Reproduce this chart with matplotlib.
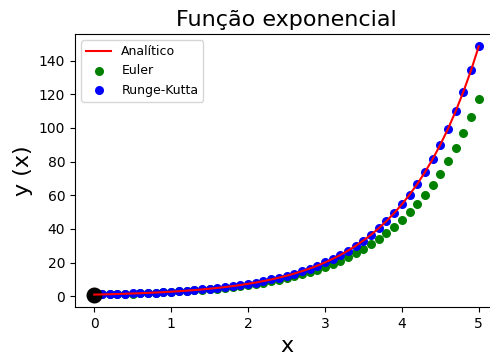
import matplotlib
matplotlib.use("Agg")
import matplotlib.pyplot as plt

x = [0.0, 0.1, 0.2, 0.3, 0.4, 0.5, 0.6, 0.7, 0.8, 0.9,
     1.0, 1.1, 1.2, 1.3, 1.4, 1.5, 1.6, 1.7, 1.8, 1.9,
     2.0, 2.1, 2.2, 2.3, 2.4, 2.5, 2.6, 2.7, 2.8, 2.9,
     3.0, 3.1, 3.2, 3.3, 3.4, 3.5, 3.6, 3.7, 3.8, 3.9,
     4.0, 4.1, 4.2, 4.3, 4.4, 4.5, 4.6, 4.7, 4.8, 4.9, 5.0]

analitico = [1.000, 1.105, 1.221, 1.350, 1.492, 1.649, 1.822, 2.014, 2.226, 2.460,
             2.718, 3.004, 3.320, 3.669, 4.055, 4.482, 4.953, 5.474, 6.050, 6.686,
             7.389, 8.166, 9.025, 9.974, 11.023, 12.182, 13.464, 14.880, 16.445, 18.174,
             20.086, 22.198, 24.533, 27.113, 29.964, 33.115, 36.598, 40.447, 44.701, 49.402,
             54.598, 60.340, 66.686, 73.700, 81.451, 90.017, 99.484, 109.947, 121.510, 134.290,
             148.413]

euler = [1.000, 1.100, 1.210, 1.331, 1.464, 1.611, 1.772, 1.949, 2.144, 2.358,
         2.594, 2.853, 3.138, 3.452, 3.797, 4.177, 4.595, 5.054, 5.560, 6.116,
         6.728, 7.400, 8.140, 8.954, 9.850, 10.835, 11.918, 13.110, 14.421, 15.863,
         17.449, 19.194, 21.114, 23.225, 25.548, 28.102, 30.913, 34.004, 37.404, 41.145,
         45.259, 49.785, 54.764, 60.240, 66.264, 72.890, 80.180, 88.197, 97.017, 106.719,
         117.391]

runge_kutta = [1.000, 1.105, 1.221, 1.350, 1.492, 1.649, 1.822, 2.014, 2.226, 2.460,
               2.718, 3.004, 3.320, 3.669, 4.055, 4.482, 4.953, 5.474, 6.050, 6.686,
               7.389, 8.166, 9.025, 9.974, 11.023, 12.182, 13.464, 14.880, 16.445, 18.174,
               20.086, 22.198, 24.533, 27.113, 29.964, 33.115, 36.598, 40.447, 44.701, 49.402,
               54.598, 60.340, 66.686, 73.700, 81.451, 90.017, 99.484, 109.947, 121.510, 134.290,
               148.413]

x0 = [0.0]
y0 = [1.0]

fig = plt.figure(figsize=(4.9, 3.56), dpi=100)
ax = fig.add_axes([75/490, (356-307)/356, (498-75)/490, (307-34)/356])

ax.plot(x, analitico, color="red", label="Analítico")
ax.scatter(x, euler, color="green", s=30, label="Euler")
ax.scatter(x, runge_kutta, color="blue", s=30, label="Runge-Kutta")
ax.scatter(x0, y0, color="black", s=110)

ax.spines["right"].set_visible(False)
ax.set_title("Função exponencial", fontsize=16)
ax.set_xlabel("x", fontsize=16)
ax.set_ylabel("y (x)", fontsize=16)
ax.set_xticks([0, 1, 2, 3, 4, 5])
ax.set_yticks([0, 20, 40, 60, 80, 100, 120, 140])
ax.legend(loc="upper left", fontsize=9)

fig.savefig("out.png", dpi=100)
